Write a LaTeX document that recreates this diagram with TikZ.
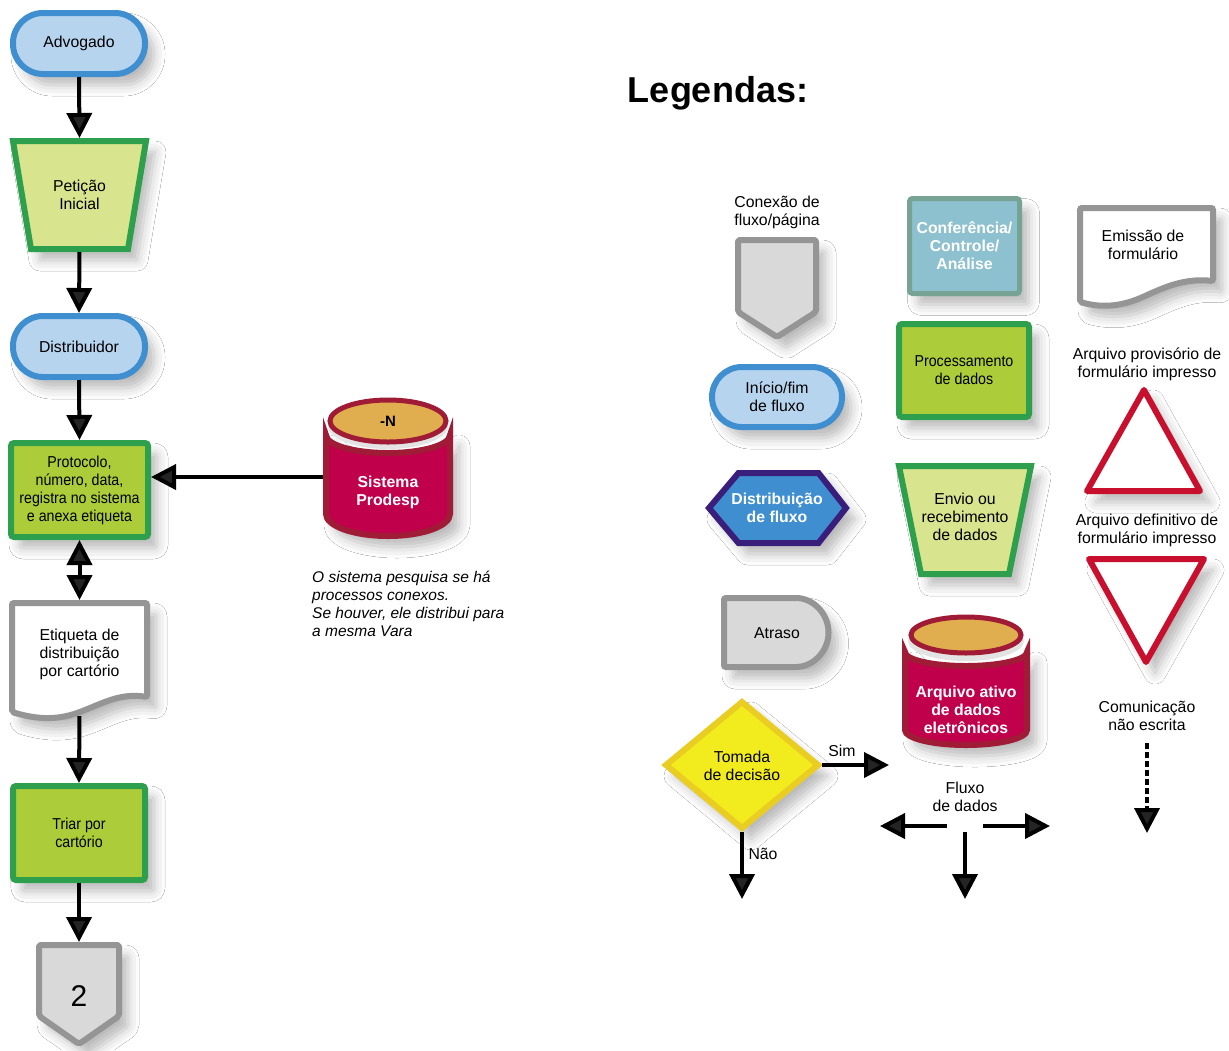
\documentclass[tikz,border=0pt]{standalone}
\usepackage{fontspec}
\setmainfont{Liberation Sans}
\newfontfamily\narrowfont[FakeStretch=0.9]{Liberation Sans}
\usetikzlibrary{arrows.meta,shadows.blur}
\definecolor{bluestroke}{HTML}{3F8FD0}
\definecolor{bluefill}{HTML}{B7D4EF}
\definecolor{greenstroke}{HTML}{2E9F4C}
\definecolor{limefill}{HTML}{ADCC39}
\definecolor{palefill}{HTML}{D8E48E}
\definecolor{graystroke}{HTML}{959595}
\definecolor{grayfill}{HTML}{D9D9D9}
\definecolor{crimson}{HTML}{C1004B}
\definecolor{darkred}{HTML}{A01B35}
\definecolor{orangetop}{HTML}{E1AE4F}
\definecolor{tealfill}{HTML}{8EC1CF}
\definecolor{tealstroke}{HTML}{76A394}
\definecolor{hexfill}{HTML}{3F8FD0}
\definecolor{hexstroke}{HTML}{3A1E7C}
\definecolor{yellowfill}{HTML}{F2EC1E}
\definecolor{yellowstroke}{HTML}{EACD22}
\definecolor{trired}{HTML}{C8102E}
\begin{document}
\begin{tikzpicture}[x=1pt,y=-1pt,
  font=\fontsize{15.8pt}{18pt}\selectfont,
  shd/.style={blur shadow={shadow xshift=9pt,shadow yshift=-11pt,shadow blur radius=11pt,shadow opacity=28}},
  frame/.style 2 args={inner sep=0pt,outer sep=0pt,minimum width=#1,minimum height=#2,align=center},
  lbl/.style={inner sep=0pt,align=center},
  term/.style={shd,draw=bluestroke,fill=bluefill,line width=6pt,rounded corners=30pt,align=center,inner sep=0pt},
  procbox/.style={shd,draw=greenstroke,fill=limefill,line width=6pt,rounded corners=3pt,align=center,inner sep=0pt,font=\narrowfont\fontsize{15.8pt}{18pt}\selectfont},
  trap/.style={shd,draw=greenstroke,fill=palefill,line width=6pt},
  grayshape/.style={shd,draw=graystroke,fill=grayfill,line width=6pt,rounded corners=2pt},
  docshape/.style={shd,draw=graystroke,fill=white,line width=6pt,rounded corners=2pt},
  cylbody/.style={shd,draw=darkred,fill=crimson,line width=6pt},
  cyltop/.style={draw=darkred,fill=orangetop,line width=5pt},
  tri/.style={shd,draw=trired,fill=white,line width=6pt,line join=round},
  whitebold/.style={lbl,text=white,font=\bfseries\fontsize{15.8pt}{18pt}\selectfont},
  arr/.style={line width=4pt,-{Triangle[length=25pt,width=25pt]}},
  darr/.style={line width=4pt,{Triangle[length=25pt,width=25pt]}-{Triangle[length=25pt,width=25pt]}}
]
\fill[white] (0,0) rectangle (1229,1050);
\useasboundingbox (0,0) rectangle (1229,1050);

% ---------------- left flow ----------------
\node[term,minimum width=132pt,minimum height=61pt] (adv) at (79,43.5) {Advogado};

\draw[trap] (13,141) -- (146,141) -- (128,249) -- (31,249) -- cycle;
\node[frame={139pt}{114pt}] (pet) at (79.5,195) {Petição\\Inicial};

\node[term,minimum width=132pt,minimum height=61pt] (dis) at (79,346.5) {Distribuidor};

\node[procbox,minimum width=137pt,minimum height=94pt] (prot) at (79.5,490) {Protocolo,\\número, data,\\registra no sistema\\e anexa etiqueta};

\draw[docshape] (12,603) -- (147,603) -- (147,697) .. controls (122,693) and (105,702) .. (85,710) .. controls (65,718) and (45,722) .. (12,712) -- cycle;
\node[frame={141pt}{116pt}] (etq) at (79.5,658) {};
\node[lbl] (etqtxt) at (79.5,654) {Etiqueta de\\distribuição\\por cartório};

\node[procbox,minimum width=132pt,minimum height=94pt] (tri) at (79,833) {Triar por\\cartório};

\draw[grayshape,line join=round] (39,945) -- (119,945) -- (119,1016) -- (79,1044) -- (39,1016) -- cycle;
\node[frame={86pt}{105pt}] (con2) at (79,994.5) {};
\node[lbl,font=\fontsize{30pt}{30pt}\selectfont] (two) at (79,996) {2};

% Sistema Prodesp cylinder
\draw[cylbody] (326,435) -- (326,514) arc[start angle=180,end angle=360,x radius=62pt,y radius=22pt] -- (450,435) arc[start angle=0,end angle=-180,x radius=62pt,y radius=18pt] -- cycle;
\fill[gray!22] (388,426) ellipse[x radius=60pt,y radius=23pt];
\draw[cyltop] (388,421) ellipse[x radius=58pt,y radius=21pt];
\node[frame={130pt}{30pt}] (sis) at (388,477) {};
\node[whitebold] (sistxt) at (388,492) {Sistema\\Prodesp};
\node[lbl,font=\bfseries\fontsize{15pt}{18pt}\selectfont] (sisn) at (388,421) {-N};

\node[lbl,anchor=north west,align=left,font=\itshape\fontsize{15.5pt}{18pt}\selectfont] (note) at (312,571)
  {O sistema pesquisa se há\\processos conexos.\\Se houver, ele distribui para\\a mesma Vara};

% connectors
\draw[arr] (adv.south) -- (pet.north);
\draw[arr] (pet.south) -- (dis.north);
\draw[arr] (dis.south) -- (prot.north);
\draw[darr] (prot.south) -- (etq.north);
\draw[arr] (etq.south) -- (tri.north);
\draw[arr] (tri.south) -- (con2.north);
\draw[arr] (sis.west) -- (sis.west -| prot.east);

% ---------------- legend ----------------
\node[lbl,font=\bfseries\fontsize{36pt}{40pt}\selectfont] (leg) at (718,93) {Legendas:};

% connector
\node[lbl] (conxlbl) at (777,212) {Conexão de\\fluxo/página};
\draw[grayshape,line join=round] (738,240) -- (816,240) -- (816,312) -- (777,337) -- (738,312) -- cycle;
\node[frame={84pt}{103pt}] (conx) at (777,288.5) {};

% inicio/fim
\node[term,minimum width=130pt,minimum height=60pt] (ini) at (777,397) {Início/fim\\de fluxo};

% hexagon
\draw[shd,draw=hexstroke,fill=hexfill,line width=6pt] (709,508) -- (738.5,473) -- (818.5,473) -- (846,508) -- (818.5,543) -- (738.5,543) -- cycle;
\node[whitebold] (dist) at (777,508) {Distribuição\\de fluxo};

% atraso
\draw[grayshape] (724,598) -- (794,598) arc[start angle=90,end angle=-90,radius=34.5pt] -- (724,667) -- cycle;
\node[lbl] (atr) at (777,633) {Atraso};

% decision
\draw[shd,draw=yellowstroke,fill=yellowfill,line width=6pt] (742,702) -- (818,765) -- (742,828) -- (666,765) -- cycle;
\node[frame={160pt}{134pt}] (dec) at (742,765) {};
\node[lbl] (dectxt) at (742,766) {Tomada\\de decisão};
\coordinate (simend) at (889,765);
\coordinate (naoend) at (742,899);
\draw[arr] (dec.east) -- (simend);
\draw[arr] (dec.south) -- (naoend);
\node[lbl] (sim) at (842,751) {Sim};
\node[lbl] (nao) at (763,854) {Não};

% conferencia
\node[shd,draw=tealstroke,fill=tealfill,line width=5pt,rounded corners=3pt,minimum width=110pt,minimum height=95pt,align=center,inner sep=0pt,text=white,font=\bfseries\fontsize{15.8pt}{18pt}\selectfont] (conf) at (964.5,246) {Conferência/\\Controle/\\Análise};

% processamento
\node[procbox,minimum width=130pt,minimum height=93pt] (proc) at (964,370.5) {Processamento\\de dados};

% envio
\draw[trap] (899,466) -- (1031,466) -- (1009,574) -- (921,574) -- cycle;
\node[lbl] (env) at (965,517) {Envio ou\\recebimento\\de dados};

% arquivo ativo cylinder
\draw[cylbody] (905,652) -- (905,730) arc[start angle=180,end angle=360,x radius=61pt,y radius=15pt] -- (1027,652) arc[start angle=0,end angle=-180,x radius=61pt,y radius=14pt] -- cycle;
\fill[gray!22] (966,641) ellipse[x radius=58pt,y radius=20pt];
\draw[cyltop] (966,635) ellipse[x radius=55pt,y radius=18pt];
\node[whitebold] (arq) at (966,710) {Arquivo ativo\\de dados\\eletrônicos};

% fluxo de dados
\node[lbl] (flx) at (965,797) {Fluxo\\de dados};
\coordinate (fl0) at (947,826);
\coordinate (fl1) at (880,826);
\coordinate (fr0) at (983,826);
\coordinate (fr1) at (1050,826);
\coordinate (fd0) at (965,832);
\coordinate (fd1) at (965,899);
\draw[arr] (fl0) -- (fl1);
\draw[arr] (fr0) -- (fr1);
\draw[arr] (fd0) -- (fd1);

% emissao
\draw[docshape] (1080,208) -- (1213,208) -- (1213,281) .. controls (1185,278) and (1165,287) .. (1145,296) .. controls (1125,305) and (1105,309) .. (1080,302) -- cycle;
\node[lbl] (emi) at (1143,245) {Emissão de\\formulário};

% triangles
\node[lbl] (prov) at (1147,364) {Arquivo provisório de\\formulário impresso};
\draw[tri] (1144,390) -- (1200,491) -- (1087,491) -- cycle;
\node[lbl] (def) at (1147,530) {Arquivo definitivo de\\formulário impresso};
\draw[tri] (1089,559) -- (1204,559) -- (1146,662) -- cycle;

% comunicacao
\node[lbl] (com) at (1147,716) {Comunicação\\não escrita};
\coordinate (cm0) at (1147,743);
\coordinate (cm1) at (1147,833);
\draw[arr,dash pattern=on 6pt off 3pt] (cm0) -- (cm1);
\end{tikzpicture}
\end{document}
